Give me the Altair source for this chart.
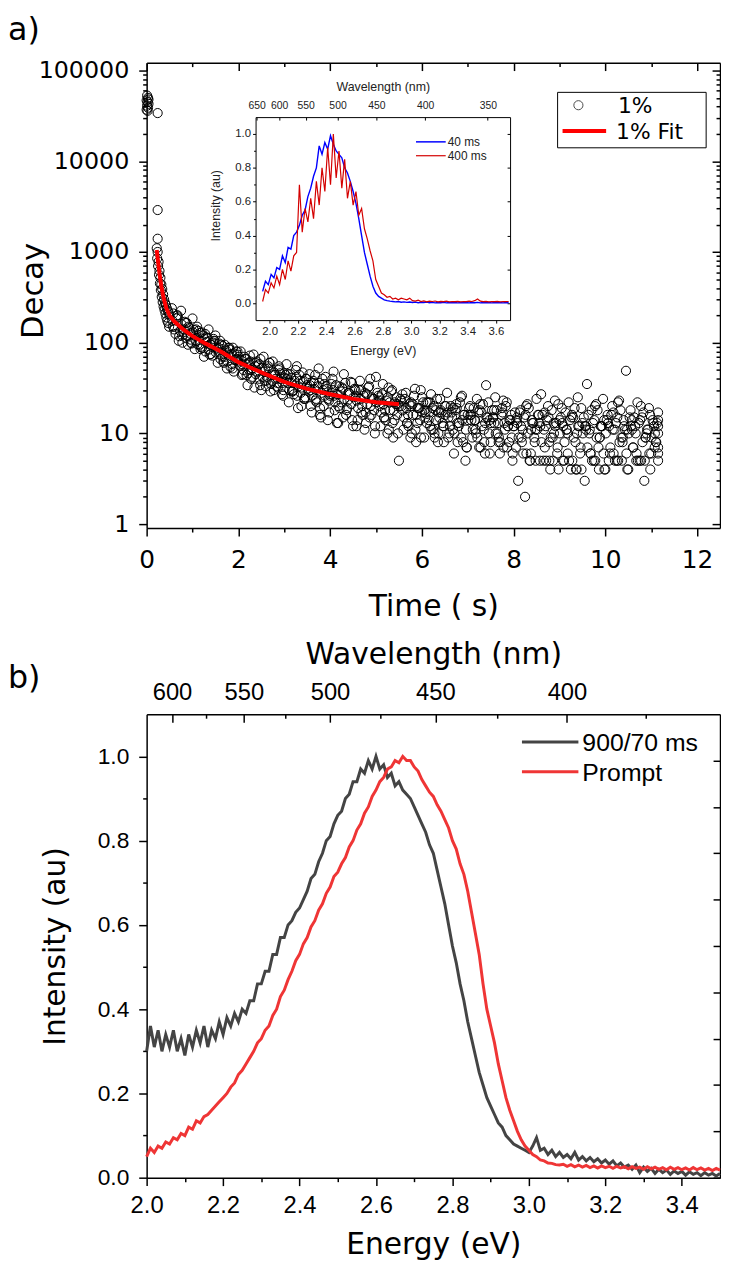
import altair as alt
import pandas as pd

# ---------------- panel a : decay data ----------------
early_t = [0.00, 0.00, 0.01, 0.01, 0.02, 0.02, 0.03, 0.03, 0.04, 0.04, 0.24, 0.24, 0.24]
early_decay = [47000, 37000, 53000, 41000, 45000, 36000, 50000, 39000, 43000, 48000, 34000, 2900, 1400]

fine_t = [0.22, 0.23, 0.24, 0.25, 0.26, 0.27, 0.28, 0.29, 0.30, 0.31,
          0.32, 0.33, 0.34, 0.35, 0.36, 0.37, 0.38, 0.39, 0.40, 0.41,
          0.42, 0.43, 0.44, 0.45, 0.46, 0.47, 0.48, 0.49, 0.50]
fine_decay = [1100, 850, 1000, 700, 780, 560, 620, 450, 520, 380,
              440, 320, 390, 280, 340, 250, 300, 230, 275, 210,
              260, 190, 240, 175, 225, 165, 215, 150, 200]

main_t = [0.55, 0.60, 0.65, 0.70, 0.75, 0.80, 0.85, 0.90, 0.95, 1.00,
          1.05, 1.10, 1.15, 1.20, 1.25, 1.30, 1.35, 1.40, 1.45, 1.50,
          1.55, 1.60, 1.65, 1.70, 1.75, 1.80, 1.85, 1.90, 1.95, 2.00,
          2.05, 2.10, 2.15, 2.20, 2.25, 2.30, 2.35, 2.40, 2.45, 2.50,
          2.55, 2.60, 2.65, 2.70, 2.75, 2.80, 2.85, 2.90, 2.95, 3.00,
          3.05, 3.10, 3.15, 3.20, 3.25, 3.30, 3.35, 3.40, 3.45, 3.50,
          3.55, 3.60, 3.65, 3.70, 3.75, 3.80, 3.85, 3.90, 3.95, 4.00,
          4.05, 4.10, 4.15, 4.20, 4.25, 4.30, 4.35, 4.40, 4.45, 4.50,
          4.55, 4.60, 4.65, 4.70, 4.75, 4.80, 4.85, 4.90, 4.95, 5.00,
          5.05, 5.10, 5.15, 5.20, 5.25, 5.30, 5.35, 5.40, 5.45, 5.50,
          5.55, 5.60, 5.65, 5.70, 5.75, 5.80, 5.85, 5.90, 5.95, 6.00,
          6.05, 6.10, 6.15, 6.20, 6.25, 6.30, 6.35, 6.40, 6.45, 6.50,
          6.55, 6.60, 6.65, 6.70, 6.75, 6.80, 6.85, 6.90, 6.95, 7.00,
          7.05, 7.10, 7.15, 7.20, 7.25, 7.30, 7.35, 7.40, 7.45, 7.50,
          7.55, 7.60, 7.65, 7.70, 7.75, 7.80, 7.85, 7.90, 7.95, 8.00,
          8.05, 8.10, 8.15, 8.20, 8.25, 8.30, 8.35, 8.40, 8.45, 8.50,
          8.55, 8.60, 8.65, 8.70, 8.75, 8.80, 8.85, 8.90, 8.95, 9.00,
          9.05, 9.10, 9.15, 9.20, 9.25, 9.30, 9.35, 9.40, 9.45, 9.50,
          9.55, 9.60, 9.65, 9.70, 9.75, 9.80, 9.85, 9.90, 9.95, 10.00,
          10.05, 10.10, 10.15, 10.20, 10.25, 10.30, 10.35, 10.40, 10.45, 10.50,
          10.55, 10.60, 10.65, 10.70, 10.75, 10.80, 10.85, 10.90, 10.95, 11.00,
          11.05, 11.10, 11.15]
main_decay = [240, 140, 185, 105, 225, 130, 165, 95, 126, 185,
              85, 150, 95, 130, 70, 115, 140, 75, 100, 120,
              60, 105, 70, 95, 52, 88, 75, 48, 80, 62,
              80, 45, 66, 34, 72, 52, 32, 62, 58, 30,
              70, 33, 55, 29, 62, 44, 36, 52, 27, 46,
              58, 22, 41, 30, 50, 19, 38, 47, 24, 34,
              45, 17, 36, 24, 52, 15, 30, 42, 14, 26,
              40, 18, 13, 33, 22, 45, 16, 28, 37, 12,
              30, 14, 38, 20, 11, 27, 33, 16, 24, 42,
              26, 12, 35, 18, 10, 22, 30, 14, 25, 5,
              23, 11, 28, 16, 9, 21, 31, 13, 19, 25,
              9, 22, 14, 27, 11, 18, 8, 24, 13, 20,
              28, 10, 17, 6, 21, 12, 25, 8, 5, 16,
              20, 9, 14, 24, 7, 17, 11, 34, 22, 8,
              15, 25, 10, 6, 19, 13, 22, 8, 16, 12,
              7, 3, 18, 11, 2, 21, 5, 14, 9, 24,
              16, 27, 5, 12, 20, 4, 9, 23, 6, 14,
              19, 5, 11, 22, 4, 15, 8, 25, 6, 13,
              3, 35, 10, 18, 5, 21, 7, 12, 24, 4,
              16, 6, 20, 11, 5, 23, 9, 14, 49, 4,
              18, 7, 12, 22, 5, 15, 3, 10, 19, 6,
              13, 8, 17]

extra_t = [0.575, 0.675, 0.775, 0.875, 0.975, 1.075, 1.175, 1.275, 1.375, 1.475,
           1.575, 1.675, 1.775, 1.875, 1.975, 2.075, 2.175, 2.275, 2.375, 2.475,
           2.575, 2.675, 2.775, 2.875, 2.975, 3.075, 3.175, 3.275, 3.375, 3.475,
           3.575, 3.675, 3.775, 3.875, 3.975, 4.075, 4.175, 4.275, 4.375, 4.475,
           4.575, 4.675, 4.775, 4.875, 4.975, 5.075, 5.175, 5.275, 5.375, 5.475,
           5.575, 5.675, 5.775, 5.875, 5.975, 6.075, 6.175, 6.275, 6.375, 6.475,
           6.575, 6.675, 6.775, 6.875, 6.975, 7.075, 7.175, 7.275, 7.375, 7.475,
           7.575, 7.675, 7.775, 7.875, 7.975, 8.075, 8.175, 8.275, 8.375, 8.475,
           8.575, 8.675, 8.775, 8.875, 8.975, 9.075, 9.175, 9.275, 9.375, 9.475,
           9.575, 9.675, 9.775, 9.875, 9.975, 10.075, 10.175, 10.275, 10.375, 10.475,
           10.575, 10.675, 10.775, 10.875, 10.975, 11.075]
extra_decay = [150, 200, 120, 165, 100, 140, 85, 125, 74, 105,
               98, 62, 88, 52, 74, 44, 66, 40, 60, 34,
               38, 60, 30, 50, 26, 45, 29, 55, 20, 40,
               20, 44, 16, 35, 23, 48, 13, 31, 19, 36,
               12, 30, 17, 40, 10, 25, 15, 32, 9, 21,
               27, 13, 20, 8, 30, 15, 22, 10, 17, 12,
               9, 19, 13, 26, 7, 16, 11, 21, 6, 14,
               18, 8, 23, 12, 5, 15, 9, 20, 6, 11,
               5, 17, 8, 13, 21, 5, 10, 16, 4, 19,
               12, 6, 20, 9, 14, 5, 17, 22, 8, 11,
               14, 5, 20, 9, 16, 7]

extra2_t = [0.56, 0.61, 0.66, 0.71, 0.76, 0.81, 0.86, 0.91, 0.96, 1.01,
            1.06, 1.11, 1.16, 1.21, 1.26, 1.31, 1.36, 1.41, 1.46, 1.51,
            1.56, 1.61, 1.66, 1.71, 1.76, 1.81, 1.86, 1.91, 1.96, 2.01,
            2.06, 2.11, 2.16, 2.21, 2.26, 2.31, 2.36, 2.41, 2.46, 2.51,
            2.56, 2.61, 2.66, 2.71, 2.76, 2.81, 2.86, 2.91, 2.96, 3.01,
            3.06, 3.11, 3.16, 3.21, 3.26, 3.31, 3.36, 3.41, 3.46, 3.51,
            3.56, 3.61, 3.66, 3.71, 3.76, 3.81, 3.86, 3.91, 3.96, 4.01,
            4.06, 4.11, 4.16, 4.21, 4.26, 4.31, 4.36, 4.41, 4.46, 4.51,
            4.56, 4.61, 4.66, 4.71, 4.76, 4.81, 4.86, 4.91, 4.96, 5.01,
            5.06, 5.11, 5.16, 5.21, 5.26, 5.31, 5.36, 5.41, 5.46, 5.51,
            5.56, 5.61, 5.66, 5.71, 5.76, 5.81, 5.86, 5.91, 5.96, 6.01,
            6.06, 6.11, 6.16, 6.21, 6.26, 6.31, 6.36, 6.41, 6.46, 6.51,
            6.56, 6.61, 6.66, 6.71, 6.76, 6.81, 6.86, 6.91, 6.96, 7.01,
            7.06, 7.11, 7.16, 7.21, 7.26, 7.31, 7.36, 7.41, 7.46, 7.51,
            7.56, 7.61, 7.66, 7.71, 7.76, 7.81, 7.86, 7.91, 7.96, 8.01,
            8.06, 8.11, 8.16, 8.21, 8.26, 8.31, 8.36, 8.41, 8.46, 8.51,
            8.56, 8.61, 8.66, 8.71, 8.76, 8.81, 8.86, 8.91, 8.96, 9.01,
            9.06, 9.11, 9.16, 9.21, 9.26, 9.31, 9.36, 9.41, 9.46, 9.51,
            9.56, 9.61, 9.66, 9.71, 9.76, 9.81, 9.86, 9.91, 9.96, 10.01,
            10.06, 10.11, 10.16, 10.21, 10.26, 10.31, 10.36, 10.41, 10.46, 10.51,
            10.56, 10.61, 10.66, 10.71, 10.76, 10.81, 10.86, 10.91, 10.96, 11.01,
            11.06, 11.11]
extra2_decay = [175, 150, 200, 118, 160, 140, 112, 150, 108, 130,
                118, 96, 128, 88, 110, 102, 84, 95, 110, 78,
                88, 66, 92, 70, 62, 84, 58, 76, 66, 70,
                64, 50, 58, 46, 62, 42, 55, 48, 40, 52,
                48, 38, 52, 35, 44, 40, 32, 46, 36, 41,
                40, 30, 36, 27, 42, 33, 28, 37, 25, 31,
                34, 26, 31, 22, 36, 28, 20, 33, 24, 27,
                30, 22, 27, 19, 32, 24, 18, 28, 21, 25,
                26, 19, 24, 16, 28, 21, 15, 25, 18, 22,
                23, 17, 21, 14, 25, 18, 13, 22, 16, 20,
                20, 15, 19, 12, 22, 16, 11, 19, 14, 17,
                18, 13, 17, 11, 20, 14, 10, 18, 12, 16,
                17, 12, 15, 10, 19, 13, 9, 16, 11, 14,
                16, 11, 14, 9, 18, 12, 8, 15, 10, 13,
                15, 10, 13, 8, 17, 11, 7, 14, 9, 12,
                14, 9, 12, 6, 16, 10, 5, 13, 8, 11,
                13, 8, 11, 5, 15, 9, 5, 12, 7, 10,
                13, 8, 11, 5, 15, 9, 4, 12, 7, 10,
                12, 7, 11, 5, 14, 9, 4, 12, 6, 10,
                13, 7, 11, 5, 15, 8, 5, 12, 6, 10,
                12, 7, 10, 5, 14, 8, 5, 11, 6, 9,
                12, 8]

extra3_t = [0.58, 0.63, 0.68, 0.73, 0.78, 0.83, 0.88, 0.93, 0.98, 1.03,
            1.08, 1.13, 1.18, 1.23, 1.28, 1.33, 1.38, 1.43, 1.48, 1.53,
            1.58, 1.63, 1.68, 1.73, 1.78, 1.83, 1.88, 1.93, 1.98, 2.03,
            2.08, 2.13, 2.18, 2.23, 2.28, 2.33, 2.38, 2.43, 2.48, 2.53,
            2.58, 2.63, 2.68, 2.73, 2.78, 2.83, 2.88, 2.93, 2.98, 3.03,
            3.08, 3.13, 3.18, 3.23, 3.28, 3.33, 3.38, 3.43, 3.48, 3.53,
            3.58, 3.63, 3.68, 3.73, 3.78, 3.83, 3.88, 3.93, 3.98, 4.03,
            4.08, 4.13, 4.18, 4.23, 4.28, 4.33, 4.38, 4.43, 4.48, 4.53,
            4.58, 4.63, 4.68, 4.73, 4.78, 4.83, 4.88, 4.93, 4.98, 5.03,
            5.08, 5.13, 5.18, 5.23, 5.28, 5.33, 5.38, 5.43, 5.48, 5.53,
            5.58, 5.63, 5.68, 5.73, 5.78, 5.83, 5.88, 5.93, 5.98, 6.03,
            6.08, 6.13, 6.18, 6.23, 6.28, 6.33, 6.38, 6.43, 6.48, 6.53,
            6.58, 6.63, 6.68, 6.73, 6.78, 6.83, 6.88, 6.93, 6.98, 7.03,
            7.08, 7.13, 7.18, 7.23, 7.28, 7.33, 7.38, 7.43, 7.48, 7.53,
            7.58, 7.63, 7.68, 7.73, 7.78, 7.83, 7.88, 7.93, 7.98, 8.03,
            8.08, 8.13, 8.18, 8.23, 8.28, 8.33, 8.38, 8.43, 8.48, 8.53,
            8.58, 8.63, 8.68, 8.73, 8.78, 8.83, 8.88, 8.93, 8.98, 9.03,
            9.08, 9.13, 9.18, 9.23, 9.28, 9.33, 9.38, 9.43, 9.48, 9.53,
            9.58, 9.63, 9.68, 9.73, 9.78, 9.83, 9.88, 9.93, 9.98, 10.03,
            10.08, 10.13, 10.18, 10.23, 10.28, 10.33, 10.38, 10.43, 10.48, 10.53,
            10.58, 10.63, 10.68, 10.73, 10.78, 10.83, 10.88, 10.93, 10.98, 11.03,
            11.08, 11.13]
extra3_decay = [210, 125, 190, 135, 100, 170, 120, 145, 98, 138,
                105, 135, 90, 120, 80, 112, 96, 72, 104, 86,
                78, 95, 60, 82, 74, 54, 88, 64, 80, 56,
                58, 70, 44, 60, 50, 74, 45, 56, 66, 42,
                52, 42, 60, 38, 47, 33, 55, 40, 30, 44,
                36, 45, 29, 38, 26, 44, 32, 24, 40, 29,
                30, 38, 23, 33, 19, 40, 26, 31, 17, 35,
                26, 34, 20, 29, 15, 36, 23, 27, 14, 31,
                23, 30, 17, 26, 13, 32, 20, 24, 12, 28,
                20, 27, 15, 23, 11, 29, 18, 21, 10, 24,
                18, 24, 13, 21, 10, 26, 16, 19, 9, 22,
                17, 22, 12, 19, 9, 24, 15, 17, 8, 20,
                15, 20, 11, 18, 8, 22, 14, 16, 7, 19,
                14, 19, 10, 17, 7, 21, 13, 15, 6, 18,
                13, 18, 9, 16, 7, 20, 12, 14, 6, 17,
                13, 17, 8, 15, 6, 19, 11, 13, 5, 16,
                12, 16, 7, 14, 5, 18, 10, 13, 4, 15,
                12, 17, 6, 14, 5, 19, 10, 12, 4, 15,
                11, 16, 6, 13, 5, 18, 9, 12, 4, 14,
                12, 16, 6, 13, 5, 18, 9, 11, 4, 15,
                11, 15, 6, 13, 5, 17, 9, 11, 4, 14,
                10, 13]

tail_t = [11.15, 11.15, 11.15, 11.15, 11.15, 11.15]
tail_decay = [14, 12, 10, 7, 6, 5]

fit_t = [0.22, 0.25, 0.28, 0.32, 0.37, 0.43, 0.50, 0.60, 0.80, 1.00,
         1.30, 1.60, 2.00, 2.50, 3.00, 3.50, 4.00, 4.50, 5.00, 5.50]
fit_decay = [1050, 780, 580, 420, 310, 240, 200, 172, 140, 118,
             97, 81, 61, 47, 37, 31, 27, 24, 22, 21]

# ---------------- inset data ----------------
inset_energy = [1.95, 1.97, 1.99, 2.01, 2.03, 2.05, 2.07, 2.09, 2.11, 2.13,
                2.15, 2.17, 2.19, 2.21, 2.23, 2.25, 2.27, 2.29, 2.31, 2.33,
                2.35, 2.37, 2.39, 2.41, 2.43, 2.45, 2.47, 2.49, 2.51, 2.53,
                2.55, 2.57, 2.59, 2.61, 2.63, 2.65, 2.67, 2.69, 2.71, 2.73,
                2.75, 2.77, 2.79, 2.81, 2.83, 2.85, 2.87, 2.89, 2.91, 2.93,
                2.95, 2.97, 2.99, 3.01, 3.03, 3.05, 3.07, 3.09, 3.11, 3.13,
                3.15, 3.17, 3.19, 3.21, 3.23, 3.25, 3.27, 3.29, 3.31, 3.33,
                3.35, 3.37, 3.39, 3.41, 3.43, 3.45, 3.47, 3.49, 3.51, 3.53,
                3.55, 3.57, 3.59, 3.61, 3.63, 3.65, 3.67, 3.69]
inset_40ms = [0.07, 0.13, 0.11, 0.17, 0.15, 0.21, 0.20, 0.28, 0.24, 0.33,
              0.32, 0.40, 0.42, 0.46, 0.52, 0.55, 0.63, 0.68, 0.75, 0.80,
              0.93, 0.88, 0.95, 0.91, 0.99, 0.94, 0.90, 0.88, 0.86, 0.80,
              0.77, 0.72, 0.66, 0.59, 0.50, 0.40, 0.30, 0.23, 0.16, 0.10,
              0.06, 0.04, 0.03, 0.02, 0.015, 0.012, 0.010, 0.008, 0.010, 0.006,
              0.008, 0.005, 0.007, 0.004, 0.006, 0.003, 0.005, 0.004, 0.006, 0.003,
              0.005, 0.002, 0.004, 0.003, 0.005, 0.002, 0.004, 0.003, 0.004, 0.002,
              0.004, 0.003, 0.004, 0.002, 0.004, 0.003, 0.005, 0.002, 0.004, 0.003,
              0.004, 0.002, 0.004, 0.003, 0.004, 0.002, 0.004, 0.003]
inset_400ms = [0.01, 0.08, 0.06, 0.12, 0.09, 0.16, 0.11, 0.20, 0.14, 0.25,
               0.19, 0.28, 0.30, 0.70, 0.42, 0.56, 0.48, 0.62, 0.50, 0.72,
               0.58, 0.80, 0.66, 0.92, 0.70, 1.00, 0.74, 0.90, 0.68, 0.85,
               0.62, 0.72, 0.58, 0.66, 0.52, 0.56, 0.44, 0.38, 0.31, 0.25,
               0.14, 0.10, 0.06, 0.05, 0.035, 0.040, 0.025, 0.030, 0.020, 0.030,
               0.025, 0.020, 0.030, 0.015, 0.012, 0.018, 0.010, 0.014, 0.008, 0.012,
               0.010, 0.013, 0.008, 0.011, 0.009, 0.012, 0.008, 0.010, 0.009, 0.011,
               0.008, 0.010, 0.009, 0.012, 0.010, 0.015, 0.025, 0.012, 0.009, 0.011,
               0.008, 0.010, 0.009, 0.011, 0.008, 0.010, 0.009, 0.010]

# ---------------- panel b data ----------------
b_energy = [2.00, 2.01, 2.02, 2.03, 2.04, 2.05, 2.06, 2.07, 2.08, 2.09,
            2.10, 2.11, 2.12, 2.13, 2.14, 2.15, 2.16, 2.17, 2.18, 2.19,
            2.20, 2.21, 2.22, 2.23, 2.24, 2.25, 2.26, 2.27, 2.28, 2.29,
            2.30, 2.31, 2.32, 2.33, 2.34, 2.35, 2.36, 2.37, 2.38, 2.39,
            2.40, 2.41, 2.42, 2.43, 2.44, 2.45, 2.46, 2.47, 2.48, 2.49,
            2.50, 2.51, 2.52, 2.53, 2.54, 2.55, 2.56, 2.57, 2.58, 2.59,
            2.60, 2.61, 2.62, 2.63, 2.64, 2.65, 2.66, 2.67, 2.68, 2.69,
            2.70, 2.71, 2.72, 2.73, 2.74, 2.75, 2.76, 2.77, 2.78, 2.79,
            2.80, 2.81, 2.82, 2.83, 2.84, 2.85, 2.86, 2.87, 2.88, 2.89,
            2.90, 2.91, 2.92, 2.93, 2.94, 2.95, 2.96, 2.97, 2.98, 2.99,
            3.00, 3.01, 3.02, 3.03, 3.04, 3.05, 3.06, 3.07, 3.08, 3.09,
            3.10, 3.11, 3.12, 3.13, 3.14, 3.15, 3.16, 3.17, 3.18, 3.19,
            3.20, 3.21, 3.22, 3.23, 3.24, 3.25, 3.26, 3.27, 3.28, 3.29,
            3.30, 3.31, 3.32, 3.33, 3.34, 3.35, 3.36, 3.37, 3.38, 3.39,
            3.40, 3.41, 3.42, 3.43, 3.44, 3.45, 3.46, 3.47, 3.48, 3.49,
            3.50]
b_900_70 = [0.30, 0.36, 0.31, 0.35, 0.30, 0.34, 0.31, 0.35, 0.30, 0.33,
            0.29, 0.34, 0.31, 0.35, 0.32, 0.36, 0.31, 0.35, 0.33, 0.37,
            0.34, 0.38, 0.36, 0.39, 0.37, 0.40, 0.39, 0.42, 0.42, 0.46,
            0.46, 0.49, 0.49, 0.53, 0.53, 0.57, 0.57, 0.60, 0.61, 0.63,
            0.64, 0.66, 0.68, 0.71, 0.72, 0.75, 0.77, 0.80, 0.81, 0.84,
            0.86, 0.87, 0.90, 0.91, 0.94, 0.94, 0.97, 0.96, 0.99, 0.97,
            1.00, 0.97, 0.98, 0.95, 0.96, 0.93, 0.94, 0.92, 0.91, 0.90,
            0.88, 0.86, 0.84, 0.82, 0.79, 0.77, 0.73, 0.69, 0.65, 0.60,
            0.55, 0.51, 0.46, 0.42, 0.37, 0.33, 0.29, 0.25, 0.22, 0.19,
            0.17, 0.15, 0.13, 0.12, 0.10, 0.09, 0.08, 0.075, 0.07, 0.065,
            0.06, 0.075, 0.095, 0.065, 0.07, 0.055, 0.065, 0.05, 0.06, 0.048,
            0.055, 0.045, 0.06, 0.042, 0.05, 0.04, 0.048, 0.038, 0.045, 0.035,
            0.042, 0.032, 0.04, 0.028, 0.035, 0.025, 0.03, 0.02, 0.03, 0.012,
            0.025, 0.015, 0.022, 0.01, 0.02, 0.012, 0.018, 0.008, 0.016, 0.01,
            0.015, 0.006, 0.014, 0.008, 0.012, 0.005, 0.012, 0.006, 0.01, 0.004,
            0.01]
b_prompt = [0.05, 0.07, 0.06, 0.075, 0.07, 0.085, 0.08, 0.095, 0.09, 0.105,
            0.10, 0.12, 0.115, 0.135, 0.13, 0.145, 0.15, 0.16, 0.17, 0.18,
            0.19, 0.20, 0.215, 0.225, 0.245, 0.255, 0.27, 0.285, 0.30, 0.32,
            0.33, 0.35, 0.36, 0.385, 0.40, 0.43, 0.445, 0.47, 0.49, 0.515,
            0.53, 0.555, 0.57, 0.595, 0.61, 0.635, 0.65, 0.675, 0.69, 0.715,
            0.725, 0.745, 0.76, 0.785, 0.80, 0.825, 0.84, 0.865, 0.88, 0.905,
            0.92, 0.94, 0.95, 0.97, 0.975, 0.99, 0.985, 1.00, 0.99, 0.99,
            0.975, 0.965, 0.945, 0.93, 0.915, 0.905, 0.885, 0.87, 0.85, 0.83,
            0.80, 0.78, 0.745, 0.72, 0.68, 0.63, 0.58, 0.53, 0.46, 0.40,
            0.36, 0.32, 0.27, 0.23, 0.19, 0.16, 0.135, 0.11, 0.09, 0.075,
            0.065, 0.055, 0.05, 0.042, 0.04, 0.035, 0.034, 0.031, 0.03, 0.032,
            0.027, 0.031, 0.026, 0.03, 0.025, 0.029, 0.024, 0.028, 0.023, 0.028,
            0.024, 0.027, 0.022, 0.027, 0.023, 0.026, 0.021, 0.026, 0.022, 0.025,
            0.02, 0.026, 0.021, 0.025, 0.02, 0.024, 0.019, 0.025, 0.02, 0.024,
            0.019, 0.023, 0.018, 0.024, 0.019, 0.023, 0.018, 0.022, 0.017, 0.022,
            0.018]

# ---------------- tick positions ----------------
time_major = [0, 2, 4, 6, 8, 10, 12]
time_minor = [1, 3, 5, 7, 9, 11]
decay_major = [1, 10, 100, 1000, 10000, 100000]
decay_minor = [m * d for d in [1, 10, 100, 1000, 10000] for m in range(2, 10)]
e_major = [2.0, 2.2, 2.4, 2.6, 2.8, 3.0, 3.2, 3.4]
e_minor = [2.1, 2.3, 2.5, 2.7, 2.9, 3.1, 3.3]
i_major = [0.0, 0.2, 0.4, 0.6, 0.8, 1.0]
i_minor = [0.1, 0.3, 0.5, 0.7, 0.9]
right_b_ticks = [0.0, 0.11, 0.22, 0.33, 0.44, 0.55, 0.66, 0.77, 0.88, 0.99]
wl_major = [600, 550, 500, 450, 400]
wl_minor = [575, 525, 475, 425, 375]
in_e_major = [2.0, 2.2, 2.4, 2.6, 2.8, 3.0, 3.2, 3.4, 3.6]
in_e_minor = [2.1, 2.3, 2.5, 2.7, 2.9, 3.1, 3.3, 3.5]
in_wl = [650, 600, 550, 500, 450, 400, 350]
HC = 1239.84
wl_major_E = [HC / w for w in wl_major]
wl_minor_E = [HC / w for w in wl_minor]
in_wl_E = [HC / w for w in in_wl]
WL_LABEL = "format(round(1239.84 / datum.value), 'd')"

FA = "DejaVu Sans"
FB = "Liberation Sans"
W, H = 579, 1126

df_sc = pd.DataFrame({
    "t": early_t + fine_t + main_t + extra_t + extra2_t + extra3_t + tail_t,
    "decay": early_decay + fine_decay + main_decay + extra_decay + extra2_decay + extra3_decay + tail_decay,
})
df_fit = pd.DataFrame({"t": fit_t, "decay": fit_decay})
df_b1 = pd.DataFrame({"E": b_energy, "I": b_900_70})
df_b2 = pd.DataFrame({"E": b_energy, "I": b_prompt})
df_i1 = pd.DataFrame({"E": inset_energy, "I": inset_40ms})
df_i2 = pd.DataFrame({"E": inset_energy, "I": inset_400ms})
one = pd.DataFrame({"k": [0]})

xa = alt.Scale(domain=[0, 12.5], range=[0, W], nice=False, zero=False)
ya = alt.Scale(type="log", domain=[0.904, 122300], range=[470, 0], nice=False)
xb = alt.Scale(domain=[2.0, 3.5], range=[0, W], nice=False, zero=False)
yb = alt.Scale(domain=[0, 1.1], range=[1126, 658], nice=False, zero=False)
xi = alt.Scale(domain=[1.9, 3.7], range=[110, 367], nice=False, zero=False)
yi = alt.Scale(domain=[-0.1, 1.1], range=[260, 55], nice=False, zero=False)


def axis(orient, offset, values, size, **kw):
    base = dict(orient=orient, offset=offset, values=values, tickSize=size, grid=False,
                labelFlush=False, labelOverlap=False, labels=False, title=None)
    base.update(kw)
    return alt.Axis(**base)


INSET = dict(domainWidth=1, tickWidth=1, labelColor="#222222", titleColor="#222222")

# ---- panel a ----
a1 = alt.Chart(df_sc).mark_point(shape="circle", filled=False, color="black", size=85,
                                 strokeWidth=1, opacity=1).encode(
    x=alt.X("t:Q", scale=xa, axis=axis("bottom", 470 - H, time_major, 8, labels=True, labelFont=FA,
                                       labelFontSize=25, labelPadding=32, labelBaseline="alphabetic",
                                       format="d", title="Time ( s)", titleFont=FA, titleFontSize=30,
                                       titleX=W / 2, titleY=88, titleBaseline="alphabetic",
                                       titleAlign="center")),
    y=alt.Y("decay:Q", scale=ya, axis=axis("left", 0, decay_major, 8, labels=True, labelFont=FA,
                                           labelFontSize=24, labelPadding=10, format="d",
                                           title="Decay", titleFont=FA, titleFontSize=31,
                                           titleAngle=270, titleX=-105, titleY=230,
                                           titleBaseline="alphabetic", titleAlign="center")))
a2 = alt.Chart(df_fit).mark_line(color="#ff0000", strokeWidth=4).encode(
    x=alt.X("t:Q", scale=xa, axis=axis("bottom", 470 - H, time_minor, 4, domain=False)),
    y=alt.Y("decay:Q", scale=ya, axis=axis("left", 0, decay_minor, 4, domain=False)))
a3 = alt.Chart(df_fit).mark_point(opacity=0).encode(
    x=alt.X("t:Q", scale=xa, axis=axis("bottom", -H, time_major, 8)),
    y=alt.Y("decay:Q", scale=ya, axis=axis("left", -W, decay_major, 8)))
a4 = alt.Chart(df_fit).mark_point(opacity=0).encode(
    x=alt.X("t:Q", scale=xa, axis=axis("bottom", -H, time_minor, 4, domain=False)),
    y=alt.Y("decay:Q", scale=ya, axis=axis("left", -W, decay_minor, 4, domain=False)))

# ---- inset ----
i1 = alt.Chart(df_i1).mark_line(color="#0000ff", strokeWidth=1.4).encode(
    x=alt.X("E:Q", scale=xi, axis=axis("bottom", 260 - H, in_e_major, 3, labels=True, labelFont=FB,
                                       labelFontSize=11.5, labelPadding=12, labelBaseline="alphabetic",
                                       format=".1f", title="Energy (eV)", titleFont=FB,
                                       titleFontSize=12.5, titleX=238.5, titleY=35,
                                       titleBaseline="alphabetic", titleAlign="center", **INSET)),
    y=alt.Y("I:Q", scale=yi, axis=axis("left", -110, i_major, 3, labels=True, labelFont=FB,
                                       labelFontSize=11.5, labelPadding=2, format=".1f",
                                       title="Intensity (au)", titleFont=FB, titleFontSize=12.5,
                                       titleAngle=270, titleX=-36, titleY=144,
                                       titleBaseline="alphabetic", titleAlign="center", **INSET)))
i2 = alt.Chart(df_i2).mark_line(color="#d40000", strokeWidth=1.2).encode(
    x=alt.X("E:Q", scale=xi, axis=axis("bottom", 260 - H, in_e_minor, 2, domain=False, **INSET)),
    y=alt.Y("I:Q", scale=yi, axis=axis("left", -110, i_minor, 2, domain=False, **INSET)))
i3 = alt.Chart(df_i1).mark_point(opacity=0).encode(
    x=alt.X("E:Q", scale=xi, axis=axis("top", -55, in_wl_E, 0, ticks=False, domain=False, labels=True,
                                       labelFont=FB, labelFontSize=10.5, labelPadding=9,
                                       labelBaseline="alphabetic", labelExpr=WL_LABEL,
                                       title="Wavelength (nm)", titleFont=FB, titleFontSize=12.5,
                                       titleX=238.5, titleY=-27, titleBaseline="alphabetic",
                                       titleAlign="center", **INSET)),
    y=alt.Y("I:Q", scale=yi, axis=axis("left", -367, i_major, 3, **INSET)))
i4 = alt.Chart(df_i1).mark_point(opacity=0).encode(
    x=alt.X("E:Q", scale=xi, axis=axis("bottom", 55 - H, in_wl_E, 3, **INSET)),
    y=alt.Y("I:Q", scale=yi, axis=None))

# ---- panel b ----
b1 = alt.Chart(df_b1).mark_line(color="#444444", strokeWidth=3).encode(
    x=alt.X("E:Q", scale=xb, axis=axis("bottom", 0, e_major, 8, labels=True, labelFont=FB,
                                       labelFontSize=24, labelPadding=27, labelBaseline="alphabetic",
                                       format=".1f", title="Energy (eV)", titleFont=FA,
                                       titleFontSize=30, titleX=W / 2, titleY=77,
                                       titleBaseline="alphabetic", titleAlign="center")),
    y=alt.Y("I:Q", scale=yb, axis=axis("left", 0, i_major, 8, labels=True, labelFont=FB,
                                       labelFontSize=23, labelPadding=10, format=".1f",
                                       title="Intensity (au)", titleFont=FA, titleFontSize=30,
                                       titleAngle=270, titleX=-83, titleY=892,
                                       titleBaseline="alphabetic", titleAlign="center")))
b2 = alt.Chart(df_b2).mark_line(color="#ef3535", strokeWidth=3).encode(
    x=alt.X("E:Q", scale=xb, axis=axis("bottom", 0, e_minor, 4, domain=False)),
    y=alt.Y("I:Q", scale=yb, axis=axis("left", 0, i_minor, 4, domain=False)))
b3 = alt.Chart(df_b1).mark_point(opacity=0).encode(
    x=alt.X("E:Q", scale=xb, axis=axis("bottom", 658 - H, wl_major_E, 8)),
    y=alt.Y("I:Q", scale=yb, axis=axis("left", -W, right_b_ticks, 7)))
b4 = alt.Chart(df_b1).mark_point(opacity=0).encode(
    x=alt.X("E:Q", scale=xb, axis=axis("bottom", 658 - H, wl_minor_E, 4, domain=False)),
    y=alt.Y("I:Q", scale=yb, axis=None))
b5 = alt.Chart(df_b1).mark_point(opacity=0).encode(
    x=alt.X("E:Q", scale=xb, axis=axis("top", -658, wl_major_E, 0, ticks=False, domain=False,
                                       labels=True, labelFont=FB, labelFontSize=24, labelPadding=15,
                                       labelBaseline="alphabetic", labelExpr=WL_LABEL,
                                       title="Wavelength (nm)", titleFont=FA, titleFontSize=30,
                                       titleX=W / 2, titleY=-51, titleBaseline="alphabetic",
                                       titleAlign="center")),
    y=alt.Y("I:Q", scale=yb, axis=None))


# ---- legends and panel letters ----
def txt(s, x, y, size, font, color="black", baseline="middle"):
    return alt.Chart(one).mark_text(text=s, font=font, fontSize=size, align="left",
                                    baseline=baseline, color=color).encode(
        x=alt.value(x), y=alt.value(y))


def seg(x1, x2, y, color, width):
    return alt.Chart(one).mark_rule(color=color, strokeWidth=width).encode(
        x=alt.value(x1), x2=alt.value(x2), y=alt.value(y))


leg_box = alt.Chart(one).mark_rect(filled=False, stroke="black", strokeWidth=1).encode(
    x=alt.value(415), x2=alt.value(565), y=alt.value(30), y2=alt.value(86))
leg_circle = alt.Chart(one).mark_point(shape="circle", filled=False, color="black", size=85,
                                       strokeWidth=1).encode(x=alt.value(436), y=alt.value(43))
legend_layers = [
    leg_box, leg_circle,
    txt("1%", 476, 44, 22, FA),
    seg(420, 464, 69, "#ff0000", 4),
    txt("1% Fit", 474, 70, 22, FA),
    seg(272, 302, 80, "#0000ff", 1.5),
    txt("40 ms", 304, 80, 12, FB, "#222222"),
    seg(272, 302, 94, "#d40000", 1.2),
    txt("400 ms", 304, 94, 12, FB, "#222222"),
    seg(379, 436, 686, "#444444", 3),
    txt("900/70 ms", 440, 687, 25, FB),
    seg(379, 436, 716, "#ef3535", 3),
    txt("Prompt", 440, 717, 25, FB),
    txt("a)", -140, -23, 32, FA, baseline="alphabetic"),
    txt("b)", -140, 632, 32, FA, baseline="alphabetic"),
]

chart = alt.layer(a1, a2, a3, a4, i1, i2, i3, i4, b1, b2, b3, b4, b5, *legend_layers).resolve_scale(
    x="independent", y="independent"
).properties(
    width=W, height=H,
    padding={"left": 140, "top": 49, "right": 1, "bottom": 83},
    autosize=alt.AutoSizeParams(type="none"),
).configure_view(stroke="transparent").configure_axis(
    domainColor="black", tickColor="black", labelColor="black", titleColor="black",
    domainWidth=1.5, tickWidth=1.5, titleFontWeight="normal", labelFontWeight="normal"
)

chart.save("out.html", embed_options={"renderer": "svg", "actions": False})
